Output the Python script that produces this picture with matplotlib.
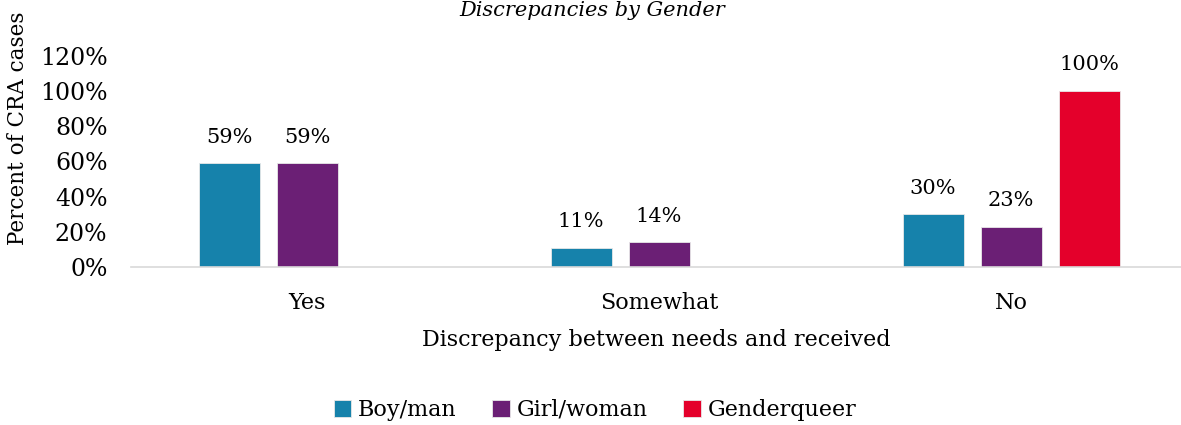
import numpy as np
import matplotlib
matplotlib.use("Agg")
import matplotlib.pyplot as plt
from matplotlib.ticker import PercentFormatter

categories = ["Yes", "Somewhat", "No"]
series_names = ["Boy/man", "Girl/woman", "Genderqueer"]
boy_man = [59, 11, 30]
girl_woman = [59, 14, 23]
genderqueer = [None, None, 100]
colors = ["#1682AB", "#6B1F75", "#E4002B"]

plt.rcParams["font.family"] = ["DejaVu Serif"]

fig = plt.figure(figsize=(11.81, 4.25), dpi=100)
ax = fig.add_axes([131 / 1181, 1 - 267 / 425, 1 - 131 / 1181, 211 / 425])

x = np.arange(len(categories))
width = 61 / 352
step = 78 / 352
for i, (name, vals, c) in enumerate(zip(series_names, [boy_man, girl_woman, genderqueer], colors)):
    first = True
    for xi, v in zip(x, vals):
        if v is None:
            continue
        ax.bar(xi + (i - 1) * step, v / 100, width, color=c,
               edgecolor="#E8E8E8", linewidth=0.6, label=name if first else None)
        first = False
        ax.annotate(f"{v}%", (xi + (i - 1) * step, v / 100), xytext=(0, 12),
                    textcoords="offset points", ha="center", va="bottom", fontsize=15)

ax.set_xlim(-0.5, 2.5 - 6 / 352)
ax.set_ylim(0, 1.2)
ax.set_yticks(np.arange(0, 1.21, 0.2))
ax.yaxis.set_major_formatter(PercentFormatter(1.0, decimals=0))
ax.set_xticks(x)
ax.set_xticklabels(categories)
ax.tick_params(axis="both", length=0, labelsize=16)
ax.tick_params(axis="y", labelsize=17, pad=17)
ax.tick_params(axis="x", pad=18)
for s in ["top", "right", "left"]:
    ax.spines[s].set_visible(False)
ax.spines["bottom"].set_color("#D9D9D9")
ax.spines["bottom"].set_linewidth(1.2)

ax.set_xlabel("Discrepancy between needs and received", fontsize=16, labelpad=11)
fig.text(18 / 1181, 1 - 128 / 425, "Percent of CRA cases", rotation=90,
         ha="center", va="center", fontsize=15.5)
fig.text(592 / 1181, 1 - 10 / 425, "Discrepancies by Gender", style="italic",
         ha="center", va="center", fontsize=15)

handles, labels = ax.get_legend_handles_labels()
fig.legend(handles, labels, loc="center", bbox_to_anchor=(595 / 1181, 1 - 410 / 425),
           ncol=3, frameon=False, fontsize=16, handlelength=0.8, handleheight=0.8,
           handletextpad=0.3, columnspacing=1.6)

fig.savefig("out.png", dpi=100)
